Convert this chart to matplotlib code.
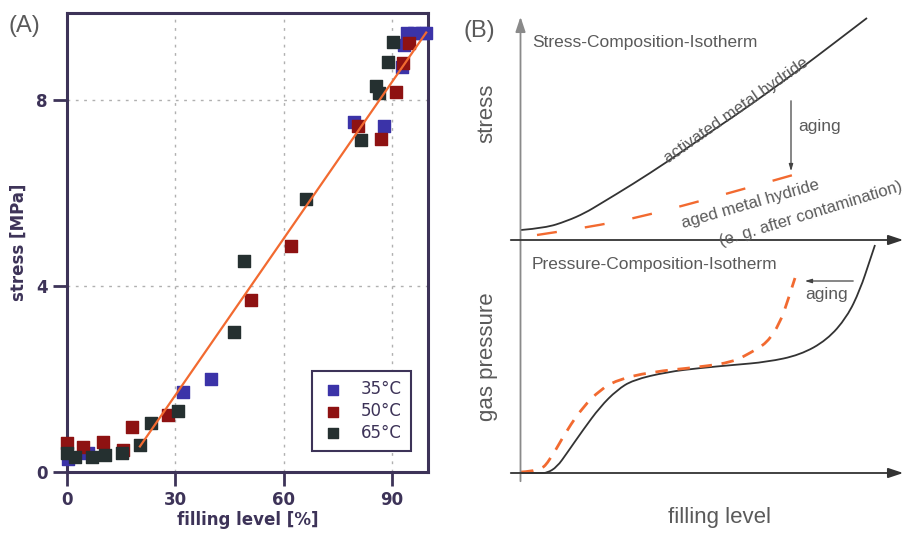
import matplotlib
matplotlib.use("Agg")
import matplotlib.pyplot as plt
from matplotlib.path import Path
from matplotlib.patches import PathPatch

# ---- panel (A): measured stress vs filling level ----
x_35 = [0.4, 5.9, 32.2, 40.0, 79.6, 87.9, 92.8, 93.4, 94.3, 96.2, 98.2, 99.5]
y_35 = [0.29, 0.40, 1.71, 2.00, 7.53, 7.43, 8.70, 9.18, 9.43, 9.43, 9.43, 9.43]

x_50 = [0.0, 4.5, 10.0, 15.6, 17.9, 28.0, 51.1, 62.1, 80.5, 87.0, 91.2, 93.0, 94.8]
y_50 = [0.62, 0.54, 0.65, 0.47, 0.97, 1.23, 3.70, 4.85, 7.43, 7.17, 8.18, 8.79, 9.22]

x_65 = [0.0, 2.2, 6.8, 10.5, 15.1, 20.2, 23.4, 30.8, 46.2, 49.0, 66.1, 81.5, 85.6,
        86.5, 88.8, 90.2]
y_65 = [0.40, 0.33, 0.33, 0.37, 0.40, 0.58, 1.05, 1.32, 3.02, 4.54, 5.86, 7.14, 8.29,
        8.14, 8.82, 9.25]

fit_x = [20.2, 99.5]
fit_y = [0.55, 9.45]

x_ticks = [0, 30, 60, 90]
y_ticks = [0, 4, 8]

# ---- panel (B): schematic isotherms (figure pixel coordinates) ----
sci_active_x = [521, 545, 567, 585, 600, 633, 667, 700, 733, 767, 800, 833, 867]
sci_active_y = [230, 228, 221, 213, 204, 184, 162, 139, 117, 93, 69, 44, 18]
sci_aged_x = [537, 557, 600, 640, 693, 740, 793]
sci_aged_y = [235, 232, 225, 217, 203, 190, 175]

pci_active_x = [521, 540, 547, 557, 567, 583, 600, 617, 633, 667, 700, 733, 767, 800,
                827, 847, 860, 870, 875]
pci_active_y = [473, 473, 473, 467, 453, 430, 407, 390, 380, 372, 368, 365, 362, 355,
                340, 317, 290, 260, 245]
pci_aged_x = [521, 540, 550, 567, 583, 600, 617, 650, 700, 733, 750, 767, 780, 788, 795]
pci_aged_y = [472, 471, 460, 430, 407, 390, 380, 372, 367, 362, 353, 343, 323, 300, 278]

FRAME = "#3d3358"
BLUE = "#3b33a8"
RED = "#8e1212"
BLACK = "#253030"
ORANGE = "#f26a30"
GREY = "#5a5a5a"


def smooth_path(xs, ys):
    # quadratic bezier chain using the read points as control points
    pts = list(zip(xs, ys))
    verts = [pts[0]]
    codes = [Path.MOVETO]
    for i in range(1, len(pts) - 1):
        nxt = pts[i + 1]
        end = nxt if i == len(pts) - 2 else ((pts[i][0] + nxt[0]) / 2, (pts[i][1] + nxt[1]) / 2)
        verts += [pts[i], end]
        codes += [Path.CURVE3, Path.CURVE3]
    return Path(verts, codes)


fig = plt.figure(figsize=(9.06, 5.33), dpi=100)

ax = fig.add_axes([67 / 906, 1 - 472 / 533, 361 / 906, 459 / 533])
ax.set_xlim(0, 100)
ax.set_ylim(0, 9.87)
ax.set_xticks(x_ticks)
ax.set_yticks(y_ticks)
ax.grid(True, color="#b0b0b0", linestyle=(0, (2, 4)), linewidth=1.0)
for side in ax.spines.values():
    side.set_color(FRAME)
    side.set_linewidth(2.2)
ax.tick_params(direction="out", length=10, width=2, color=FRAME, labelcolor=FRAME,
               labelsize=12, pad=4)
for lab in ax.get_xticklabels() + ax.get_yticklabels():
    lab.set_fontweight("bold")

ax.scatter(x_35, y_35, marker="s", s=68, color=BLUE, label="35°C", zorder=3, clip_on=False)
ax.scatter(x_50, y_50, marker="s", s=68, color=RED, label="50°C", zorder=3, clip_on=False)
ax.scatter(x_65, y_65, marker="s", s=68, color=BLACK, label="65°C", zorder=3, clip_on=False)
ax.plot(fit_x, fit_y, color=ORANGE, linewidth=1.6, zorder=4)

ax.set_xlabel("filling level [%]", fontsize=12, fontweight="bold", color=FRAME, labelpad=1)
ax.set_ylabel("stress [MPa]", fontsize=12, fontweight="bold", color=FRAME, labelpad=6)

leg = ax.legend(loc="lower right", bbox_to_anchor=(0.953, 0.046), fancybox=False,
                framealpha=1, fontsize=12, handletextpad=1.0, borderpad=0.55,
                labelspacing=0.22, markerscale=0.85, handlelength=1.4, borderaxespad=0)
leg.get_frame().set_edgecolor(FRAME)
leg.get_frame().set_linewidth(1.5)
for t in leg.get_texts():
    t.set_color(FRAME)

fig.text(24 / 906, 1 - 26 / 533, "(A)", fontsize=17, color=GREY, ha="center", va="center",
         family=["Liberation Sans", "DejaVu Sans"])

# ---- panel (B) ----
axb = fig.add_axes([0, 0, 1, 1], facecolor="none")
axb.set_xlim(0, 906)
axb.set_ylim(533, 0)
axb.axis("off")

axis_kw = dict(arrowstyle="-|>,head_length=0.9,head_width=0.3", color="#333333", lw=1.3)
axb.annotate("", xy=(520.5, 14), xytext=(520.5, 484),
             arrowprops=dict(arrowstyle="-|>,head_length=0.9,head_width=0.3",
                             color="#8a8a8a", lw=1.3))
axb.annotate("", xy=(906, 240), xytext=(508, 240), arrowprops=axis_kw)
axb.annotate("", xy=(906, 473), xytext=(508, 473), arrowprops=axis_kw)

axb.add_patch(PathPatch(smooth_path(sci_active_x, sci_active_y), fill=False,
                        edgecolor="#333333", linewidth=1.3))
axb.add_patch(PathPatch(smooth_path(sci_aged_x, sci_aged_y), fill=False,
                        edgecolor=ORANGE, linewidth=1.7, linestyle=(0, (8.5, 12))))
axb.add_patch(PathPatch(smooth_path(pci_active_x, pci_active_y), fill=False,
                        edgecolor="#333333", linewidth=1.3))
axb.add_patch(PathPatch(smooth_path(pci_aged_x, pci_aged_y), fill=False,
                        edgecolor=ORANGE, linewidth=2.0, linestyle=(0, (4.5, 3.5))))

arrow_kw = dict(arrowstyle="-|>,head_length=0.4,head_width=0.12", color="#444444", lw=0.9)
axb.annotate("", xy=(791, 174), xytext=(791, 98), arrowprops=arrow_kw)
axb.annotate("", xy=(802, 281), xytext=(856, 281), arrowprops=arrow_kw)

font_b = ["Liberation Sans", "DejaVu Sans"]
axb.text(532, 43, "Stress-Composition-Isotherm", fontsize=12.5, color=GREY, family=font_b,
         ha="left", va="center")
axb.text(532, 265, "Pressure-Composition-Isotherm", fontsize=12.5, color=GREY, family=font_b,
         ha="left", va="center")
axb.text(487, 113, "stress", fontsize=16, color=GREY, family=font_b, rotation=90,
         ha="center", va="center")
axb.text(487, 357, "gas pressure", fontsize=16, color=GREY, family=font_b, rotation=90,
         ha="center", va="center")
axb.text(720, 517, "filling level", fontsize=16, color=GREY, family=font_b,
         ha="center", va="center")
axb.text(798, 127, "aging", fontsize=12.5, color=GREY, family=font_b, ha="left", va="center")
axb.text(805, 295, "aging", fontsize=12.5, color=GREY, family=font_b, ha="left", va="center")
axb.text(736, 110, "activated metal hydride", fontsize=12, color=GREY, family=font_b,
         rotation=35, rotation_mode="anchor", ha="center", va="center")
axb.text(750, 204, "aged metal hydride", fontsize=12, color=GREY, family=font_b,
         rotation=16, rotation_mode="anchor", ha="center", va="center")
axb.text(720, 242, "(e. g. after contamination)", fontsize=12, color=GREY, family=font_b,
         rotation=17, rotation_mode="anchor", ha="left", va="center", clip_on=True)
axb.text(479, 31, "(B)", fontsize=17, color=GREY, ha="center", va="center", family=font_b)

fig.savefig("out.png", dpi=100)
